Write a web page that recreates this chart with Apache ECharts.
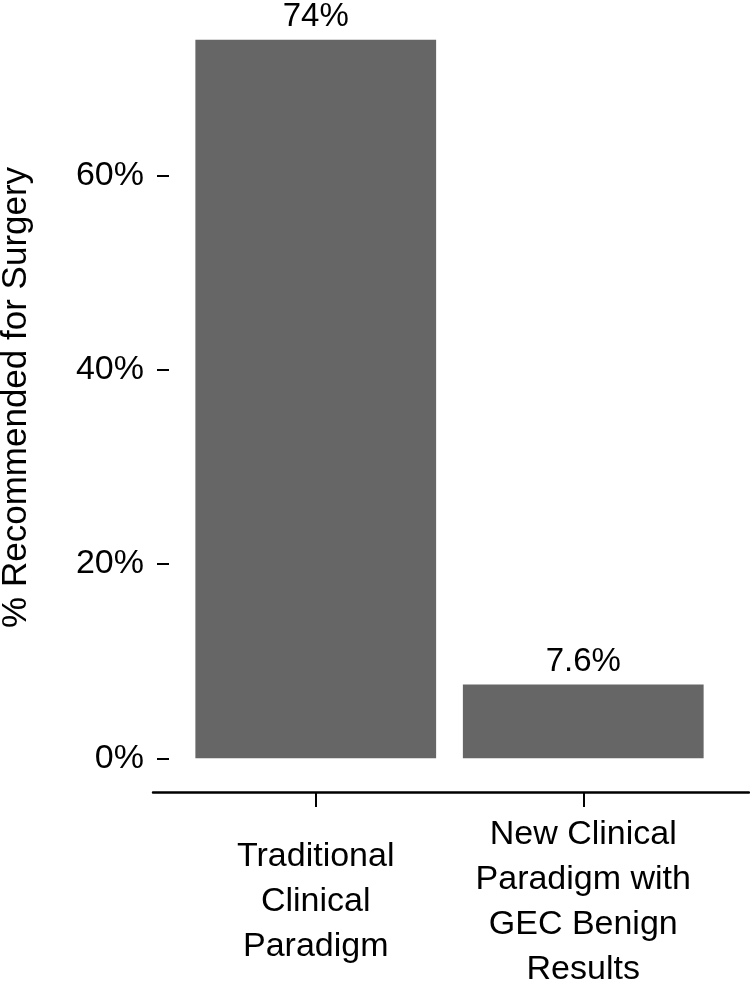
<!DOCTYPE html>
<html>
<head>
<meta charset="utf-8">
<script src="https://cdn.jsdelivr.net/npm/echarts@6/dist/echarts.min.js"></script>
<style>
html,body{margin:0;padding:0;background:#fff;}
#chart{width:750px;height:981px;}
</style>
</head>
<body>
<div id="chart"></div>
<script>
var categories = ['Traditional\nClinical\nParadigm', 'New Clinical\nParadigm with\nGEC Benign\nResults'];
var values = [74, 7.6];
var yTicks = {min: 0, max: 80, interval: 20};
var yTitle = '% Recommended for Surgery';

var FONT = "'Liberation Sans', Arial, Helvetica, sans-serif";
var chart = echarts.init(document.getElementById('chart'), null, {renderer: 'canvas'});
chart.setOption({
  animation: false,
  backgroundColor: '#ffffff',
  grid: [
    {left: 182, right: 33, top: -18.5, bottom: 222.7, containLabel: false, outerBoundsMode: 'none'},
    {left: 153, right: 1, top: 791, height: 1, containLabel: false, outerBoundsMode: 'none'},
    {left: 182, right: 33, top: 791, height: 1, containLabel: false, outerBoundsMode: 'none'}
  ],
  xAxis: [
    {
      type: 'category', gridIndex: 0, data: categories, show: false
    },
    {
      type: 'value', gridIndex: 1, min: 0, max: 1,
      axisLine: {show: true, lineStyle: {color: '#000', width: 2.5}},
      axisTick: {show: false}, axisLabel: {show: false}, splitLine: {show: false}
    },
    {
      type: 'category', gridIndex: 2, data: categories,
      axisLine: {show: false},
      axisTick: {show: true, alignWithLabel: true, length: 15, lineStyle: {color: '#000', width: 2}},
      axisLabel: {color: '#000', fontSize: 34, fontFamily: FONT, lineHeight: 45, margin: 110, verticalAlign: 'middle', align: 'center', interval: 0}
    }
  ],
  yAxis: [
    {
      type: 'value', gridIndex: 0, min: yTicks.min, max: yTicks.max, interval: yTicks.interval, offset: 13,
      axisLine: {show: false},
      axisTick: {show: true, length: 12, lineStyle: {color: '#000', width: 2}},
      axisLabel: {color: '#000', fontSize: 34, fontFamily: FONT, margin: 25, formatter: '{value}%', showMaxLabel: false},
      splitLine: {show: false},
      name: yTitle, nameLocation: 'middle', nameGap: 135,
      nameTextStyle: {color: '#000', fontSize: 35, fontFamily: FONT, padding: [0, 55, 0, 0]}
    },
    {type: 'value', gridIndex: 1, show: false},
    {type: 'value', gridIndex: 2, show: false}
  ],
  series: [{
    type: 'bar', xAxisIndex: 0, yAxisIndex: 0, data: values,
    barCategoryGap: '10%',
    itemStyle: {color: '#666666'},
    label: {show: true, position: 'top', distance: 6, color: '#000', fontSize: 33, fontFamily: FONT, formatter: '{c}%'}
  }]
});
</script>
</body>
</html>
